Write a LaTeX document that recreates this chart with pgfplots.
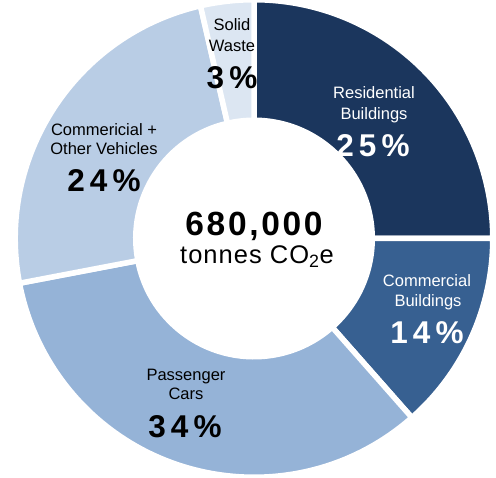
\documentclass[border=0pt]{standalone}
\usepackage{fontspec}
\setmainfont{Liberation Sans}
\usepackage{pgfplots}
\pgfplotsset{compat=1.18}
\usepackage{pgfplotstable}
\usetikzlibrary{calc}

\definecolor{resC}{HTML}{1B365D}
\definecolor{comC}{HTML}{376091}
\definecolor{carC}{HTML}{95B3D7}
\definecolor{vehC}{HTML}{B9CDE5}
\definecolor{wasC}{HTML}{DCE6F2}

% shares of the total, clockwise from 12 o'clock
\pgfplotstableread{
share
25
13.5
33.5
24.4
3.6
}\shares

\def\cx{254}\def\cy{239.5}
\def\Ro{238.75}\def\Ri{118.25}

\pgfplotstablegetelem{0}{share}\of\shares\pgfmathsetmacro\aB{90-3.6*\pgfplotsretval}
\pgfplotstablegetelem{1}{share}\of\shares\pgfmathsetmacro\aC{\aB-3.6*\pgfplotsretval}
\pgfplotstablegetelem{2}{share}\of\shares\pgfmathsetmacro\aD{\aC-3.6*\pgfplotsretval}
\pgfplotstablegetelem{3}{share}\of\shares\pgfmathsetmacro\aE{\aD-3.6*\pgfplotsretval}
\pgfplotstablegetelem{4}{share}\of\shares\pgfmathsetmacro\aF{\aE-3.6*\pgfplotsretval}

\newcommand\slice[3]{%
  \fill[#1,draw=white,line width=5.5pt]
    ($(axis cs:\cx,\cy)+(#2:\Ro pt)$) arc[start angle=#2,end angle=#3,radius=\Ro pt]
    -- ($(axis cs:\cx,\cy)+(#3:\Ri pt)$) arc[start angle=#3,end angle=#2,radius=\Ri pt]
    -- cycle;}
\newcommand\lab[3]{\node[anchor=base,inner sep=0pt,text=#3,font=\fontsize{16.5}{18}\selectfont] at (axis cs:#1) {#2};}
\newcommand\pct[3]{\node[anchor=base,inner sep=0pt,text=#3,font=\fontsize{31.5}{32}\selectfont\bfseries\addfontfeatures{LetterSpace=16}] at (axis cs:#1) {#2};}

\begin{document}
\begin{tikzpicture}
\begin{axis}[hide axis,scale only axis,width=496pt,height=478pt,
  xmin=0,xmax=496,ymin=0,ymax=478,clip=false]
\slice{resC}{90}{\aB}
\slice{comC}{\aB}{\aC}
\slice{carC}{\aC}{\aD}
\slice{vehC}{\aD}{\aE}
\slice{wasC}{\aE}{\aF}

\lab{232,447}{Solid}{black}
\lab{232,426}{Waste}{black}
\pct{232,389}{3\%}{black}

\lab{374,379}{Residential}{white}
\lab{374,358}{Buildings}{white}
\pct{373,321}{25\%}{white}

\lab{427,191}{Commercial}{white}
\lab{428,171}{Buildings}{white}
\pct{427,134}{14\%}{white}

\lab{186,97}{Passenger}{black}
\lab{186,78}{Cars}{black}
\pct{185,40}{34\%}{black}

\lab{104,342}{Commericial +}{black}
\lab{104,323}{Other Vehicles}{black}
\pct{104,286}{24\%}{black}

\node[anchor=base,inner sep=0pt,font=\fontsize{33.5}{34}\selectfont\bfseries\addfontfeatures{LetterSpace=8}] at (axis cs:254,242) {680,000};
\node[anchor=base,inner sep=0pt,font=\fontsize{25.5}{26}\selectfont\addfontfeatures{LetterSpace=4}] at (axis cs:257,214) {tonnes CO\textsubscript{2}e};
\end{axis}
\pgfresetboundingbox
\path (0,0) rectangle (496pt,478pt);
\end{tikzpicture}
\end{document}
